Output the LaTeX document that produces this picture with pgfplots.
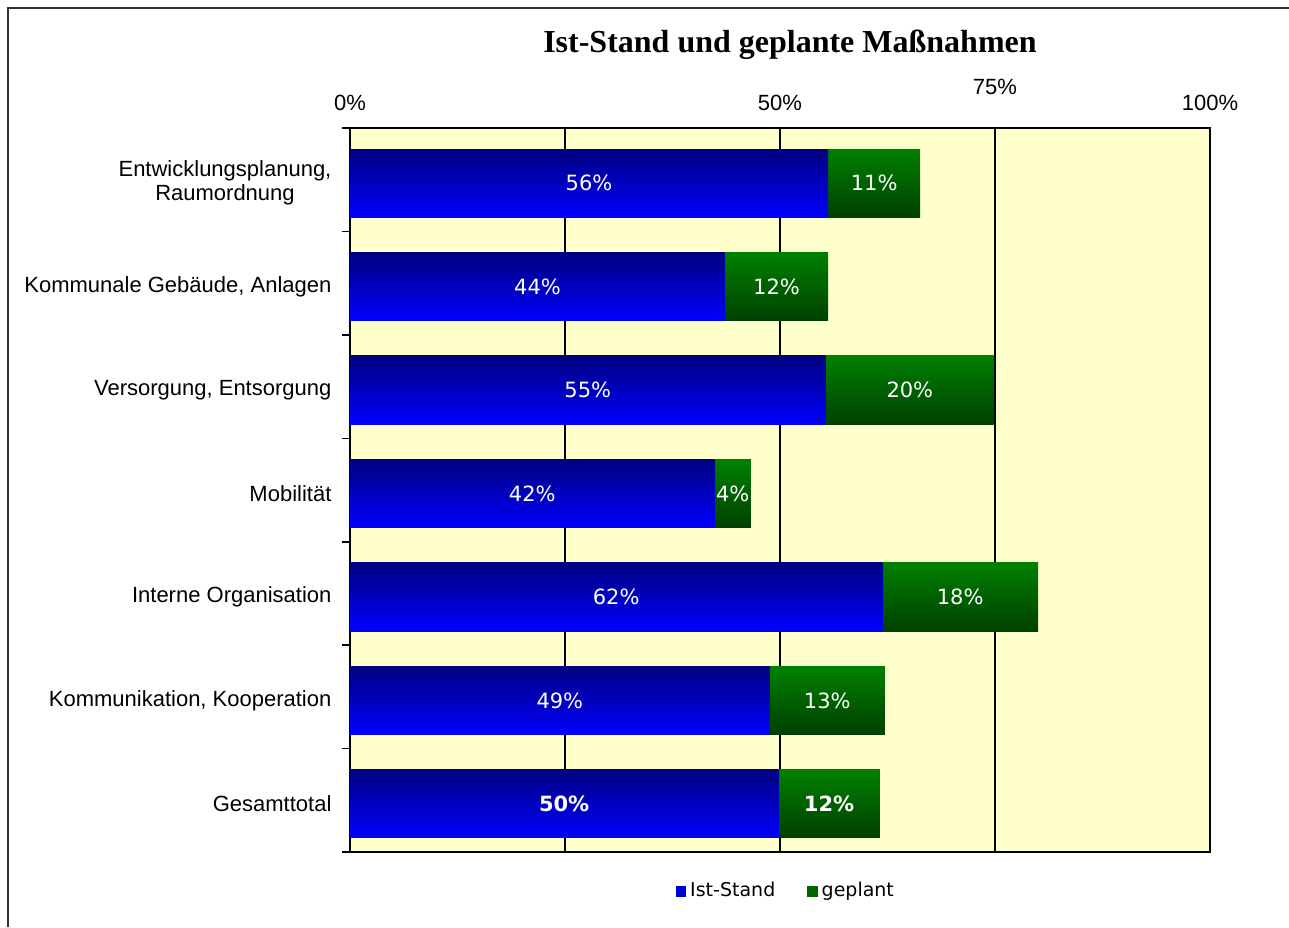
\documentclass[border=0pt]{standalone}
\usepackage{fontspec}
\setmainfont{Liberation Sans}
\newfontfamily\dejavu{DejaVu Sans}
\newfontfamily\titlefont{Liberation Serif}
\usepackage{pgfplots}
\pgfplotsset{compat=1.18}
\usepackage{pgfplotstable}
\definecolor{bgYellow}{HTML}{FFFFCC}
\definecolor{navyTop}{HTML}{000080}
\definecolor{blueBot}{HTML}{0000FF}
\definecolor{greenTop}{HTML}{008000}
\definecolor{greenBot}{HTML}{004000}
\definecolor{frameGray}{HTML}{303030}

% pos ist plan bold
\pgfplotstableread{
pos ist  plan bold
0   55.6 10.7 0
1   43.6 12.0 0
2   55.3 19.6 0
3   42.4 4.2  0
4   61.9 18.1 0
5   48.8 13.4 0
6   49.8 11.8 1
}\massnahmen

\newcommand{\pctlabel}{\ifdim\isbold pt>0.5pt\bfseries\fi\pgfmathprintnumber[fixed,precision=0,assume math mode=true]{\pgfplotspointmeta}\%}

\begin{document}
\begin{tikzpicture}
\path[use as bounding box] (0,0) rectangle (644.5pt,463.5pt);
\draw[frameGray, line width=1.2pt] (3.9pt,0) -- (3.9pt,459.4pt) -- (644.5pt,459.4pt);
\node[font=\titlefont\bfseries\fontsize{16}{18}\selectfont] at (395pt,441pt) {Ist-Stand und geplante Maßnahmen};

\begin{axis}[
  at={(175pt,37.5pt)}, anchor=south west,
  scale only axis, width=430pt, height=362pt,
  xmin=0, xmax=100, ymin=-0.534, ymax=6.466, y dir=reverse,
  axis background/.style={fill=bgYellow},
  axis line style={black, line width=1pt},
  xtick={0,25,50,100}, xticklabels={0\%,,50\%,100\%},
  extra x ticks={75}, extra x tick labels={75\%},
  extra x tick style={grid=major, xticklabel style={yshift=8pt}},
  xmajorgrids, major grid style={black, line width=0.7pt},
  xtick pos=upper, xticklabel pos=upper,
  major x tick style={draw=none},
  ytick={0,...,6},
  yticklabels={{Entwicklungsplanung,\\Raumordnung},{Kommunale Gebäude, Anlagen},{Versorgung, Entsorgung},Mobilität,{Interne Organisation},{Kommunikation, Kooperation},Gesamttotal},
  minor ytick={-0.534,0.466,...,6.466},
  ytick pos=left,
  major y tick style={draw=none},
  minor y tick style={black, line width=0.8pt},
  minor tick length=4pt,
  tick align=outside,
  yticklabel style={align=center, font=\fontsize{11}{12}\selectfont, xshift=-1.5pt},
  xticklabel style={font=\fontsize{11}{12}\selectfont, yshift=1pt},
  legend style={at={(0.508,-0.054)}, anchor=center, draw=none, fill=none,
    legend columns=2, font=\dejavu\fontsize{9.5}{11}\selectfont,
    /tikz/every even column/.append style={column sep=14pt}},
  legend image code/.code={\fill[#1] (0pt,-2.8pt) rectangle (5.2pt,2.4pt);},
  every node near coord/.append style={anchor=center, text=white, font=\dejavu\fontsize{10.5}{12}\selectfont},
]
\addlegendimage{fill=blue!85!black, draw=none}
\addlegendentry{Ist-Stand}
\addlegendimage{fill=green!40!black, draw=none}
\addlegendentry{geplant}

% one plot per row so that every bar gets its own gradient;
% total bar (geplant) drawn first, Ist-Stand drawn over it
\pgfplotsinvokeforeach{0,...,6}{
\addplot[forget plot, xbar, bar width=0.66, bar shift=0pt, draw=none,
  top color=greenTop, bottom color=greenBot, restrict y to domain=#1:#1]
  table[x expr=\thisrow{ist}+\thisrow{plan}, y=pos] {\massnahmen};
\addplot[forget plot, xbar, bar width=0.66, bar shift=0pt, draw=none,
  top color=navyTop, bottom color=blueBot, restrict y to domain=#1:#1]
  table[x=ist, y=pos] {\massnahmen};
}

% labels in the middle of each segment
\addplot[forget plot, only marks, mark=none, point meta=explicit,
  visualization depends on={\thisrow{bold}\as\isbold},
  nodes near coords={\pctlabel}]
  table[x expr=\thisrow{ist}/2, y=pos, meta=ist] {\massnahmen};
\addplot[forget plot, only marks, mark=none, point meta=explicit,
  visualization depends on={\thisrow{bold}\as\isbold},
  nodes near coords={\pctlabel}]
  table[x expr=\thisrow{ist}+\thisrow{plan}/2, y=pos, meta=plan] {\massnahmen};
\end{axis}
\end{tikzpicture}
\end{document}
